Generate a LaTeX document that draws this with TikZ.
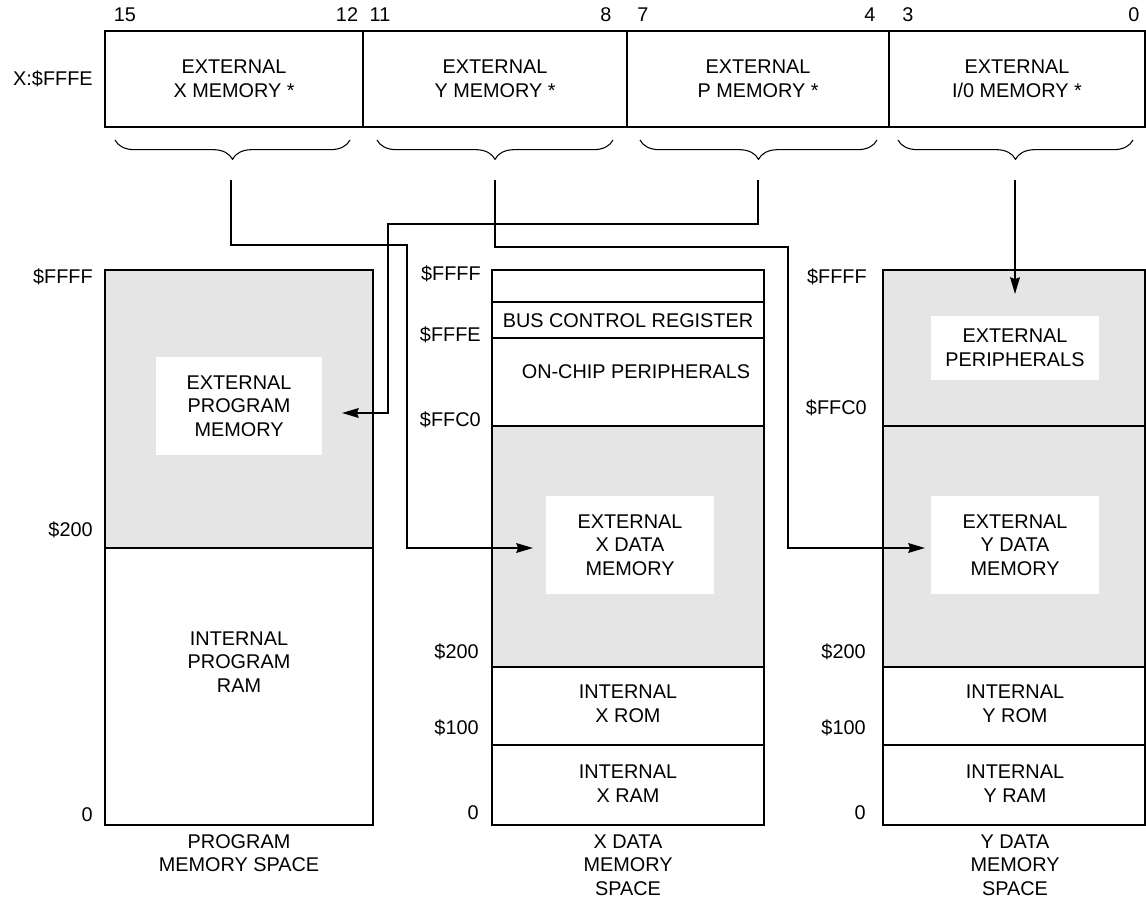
\documentclass[tikz,border=0pt]{standalone}
\usepackage{fontspec}
\setmainfont{Liberation Sans}
\usetikzlibrary{arrows.meta,decorations.pathreplacing}

\begin{document}
\begin{tikzpicture}[x=0.02cm,y=-0.02cm,
    txt/.style={font=\fontsize{11.3}{13.5}\selectfont,align=center,inner sep=0pt},
    addr/.style={txt,anchor=east},
    hole/.style={txt,fill=white,minimum width=3.36cm,minimum height=1.95cm},
    wall/.style={line width=1.35pt},
    link/.style={line width=1.1pt,-{Stealth[length=9.5pt,width=5.5pt,inset=1pt]}},
    curly/.style={decorate,decoration={brace,mirror,amplitude=11pt},line width=0.6pt}]
  \useasboundingbox (0,0) rectangle (1146,905);
  % bus control register word
  \draw[wall] (105,31) rectangle (1145,127);
  \foreach \x in {363,627,889} \draw[wall] (\x,31) -- (\x,127);
  \foreach \b/\x in {15/125,12/347,11/380,8/606,7/643,4/870,3/908,0/1134}
    \node[txt] (bit\b) at (\x,15) {\b};
  \node[addr] (regaddr) at (93,79) {X:\$FFFE};
  \node[txt] (fx) at (234,79) {EXTERNAL\\X MEMORY *};
  \node[txt] (fy) at (495,79) {EXTERNAL\\Y MEMORY *};
  \node[txt] (fp) at (758,79) {EXTERNAL\\P MEMORY *};
  \node[txt] (fio) at (1017,79) {EXTERNAL\\I/0 MEMORY *};
  \foreach \a/\b in {115/350,377/613,640/877,898/1133}
    \draw[curly] (\a,140) -- (\b,140);
  \coordinate (xsrc) at (231,180);
  \coordinate (ysrc) at (495,180);
  \coordinate (psrc) at (758,180);
  \coordinate (iosrc) at (1015,180);

  % program memory space
  \fill[gray!20] (105,270) rectangle (373,548);
  \draw[wall] (105,270) rectangle (373,825);
  \draw[wall] (105,548) -- (373,548);
  \node[hole,minimum width=3.34cm] (pext) at (239,406) {EXTERNAL\\PROGRAM\\MEMORY};
  \node[txt] (pint) at (239,662) {INTERNAL\\PROGRAM\\RAM};
  \node[addr] (pa1) at (93,277) {\$FFFF};
  \node[addr] (pa2) at (93,530) {\$200};
  \node[addr] (pa3) at (93,815) {0};
  \node[txt,anchor=north] (pname) at (239,834) {PROGRAM\\MEMORY SPACE};

  % x data memory space
  \fill[gray!20] (492,426) rectangle (764,667);
  \draw[wall] (492,270) rectangle (764,825);
  \foreach \y in {302,338,426,667,745} \draw[wall] (492,\y) -- (764,\y);
  \node[txt] (bcr) at (628,321) {BUS CONTROL REGISTER};
  \node[txt] (onchip) at (636,372) {ON-CHIP PERIPHERALS};
  \node[hole] (xext) at (630,545) {EXTERNAL\\X DATA\\MEMORY};
  \node[txt] (xrom) at (628,704) {INTERNAL\\X ROM};
  \node[txt] (xram) at (628,784) {INTERNAL\\X RAM};
  \node[addr] (xa1) at (481,274) {\$FFFF};
  \node[addr] (xa2) at (481,335) {\$FFFE};
  \node[addr] (xa3) at (481,420) {\$FFC0};
  \node[addr] (xa4) at (479,652) {\$200};
  \node[addr] (xa5) at (479,728) {\$100};
  \node[addr] (xa6) at (479,813) {0};
  \node[txt,anchor=north] (xname) at (628,834) {X DATA\\MEMORY\\SPACE};

  % y data memory space
  \fill[gray!20] (883,270) rectangle (1145,667);
  \draw[wall] (883,270) rectangle (1145,825);
  \foreach \y in {426,667,745} \draw[wall] (883,\y) -- (1145,\y);
  \node[hole,minimum height=1.3cm] (yper) at (1015,348) {EXTERNAL\\PERIPHERALS};
  \node[hole] (yext) at (1015,545) {EXTERNAL\\Y DATA\\MEMORY};
  \node[txt] (yrom) at (1015,704) {INTERNAL\\Y ROM};
  \node[txt] (yram) at (1015,784) {INTERNAL\\Y RAM};
  \node[addr] (ya1) at (867,277) {\$FFFF};
  \node[addr] (ya2) at (867,408) {\$FFC0};
  \node[addr] (ya3) at (866,652) {\$200};
  \node[addr] (ya4) at (866,728) {\$100};
  \node[addr] (ya5) at (866,813) {0};
  \node[txt,anchor=north] (yname) at (1015,834) {Y DATA\\MEMORY\\SPACE};

  % where each field of the register points
  \coordinate (xin) at (533,548);
  \coordinate (yin) at (925,548);
  \coordinate (pin) at (342,413);
  \draw[link] (xsrc) |- (407,245) |- (xin);
  \draw[link] (ysrc) |- (788,247) |- (yin);
  \draw[link] (psrc) |- (388,224) |- (pin);
  \draw[link,shorten >=12pt] (iosrc) -- (iosrc |- yper.north);
\end{tikzpicture}
\end{document}
